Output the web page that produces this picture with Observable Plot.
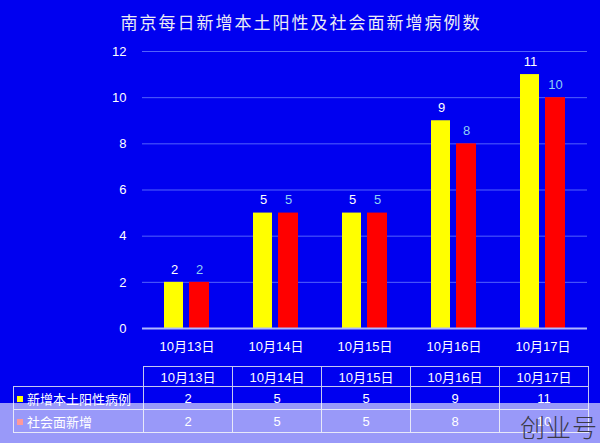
<!DOCTYPE html>
<html>
<head>
<meta charset="utf-8">
<script src="https://cdn.jsdelivr.net/npm/d3@7"></script>
<script src="https://cdn.jsdelivr.net/npm/@observablehq/plot@0.6"></script>
<style>
  html, body { margin: 0; padding: 0; }
  body { width: 600px; height: 443px; overflow: hidden; background: #0000f0; }
  #wrap { position: relative; width: 600px; height: 443px; background: #0000f0;
          font-family: "Liberation Sans", "Noto Sans CJK SC", sans-serif; color: #fff; }
  #title { height: 40px; line-height: 44px; text-align: center; font-family: "Noto Sans CJK SC", sans-serif;
           font-size: 17px; letter-spacing: 2px; color: #ececf4; padding-left: 2px; }
  #chart svg { display: block; }
  #tbl { position: absolute; left: 13px; top: 366px; border-collapse: collapse; font-size: 13px; color: #fff; }
  #tbl td { border: 1px solid #c4c8f0; text-align: center; padding: 0; }
  #tbl td.lab { text-align: left; width: 126px; padding-left: 3px; }
  #tbl td.col { width: 88px; }
  #tbl tr.h td { height: 17px; }
  #tbl tr.r1 td { height: 22px; }
  #tbl tr.r2 td { height: 22px; }
  #tbl td.blank { border: none; }
  .sw { display: inline-block; width: 6px; height: 6px; margin-right: 4px; vertical-align: 2px; }
  #wm { position: absolute; left: 0; top: 403px; width: 600px; height: 40px; background: rgba(255,255,255,0.6); }
  #wmt { position: absolute; right: 2px; top: 408px; font-family: "Noto Sans CJK SC", sans-serif; font-weight: 300;
         font-size: 25px; color: #3a3a48; letter-spacing: 1px; }
</style>
</head>
<body>
<div id="wrap">
  <div id="title"></div>
  <div id="chart"></div>
  <table id="tbl"></table>
  <div id="wm"></div>
  <div id="wmt">创业号</div>
</div>
<script>
const titleText = "南京每日新增本土阳性及社会面新增病例数";
const dates = ["10月13日", "10月14日", "10月15日", "10月16日", "10月17日"];
const seriesNames = ["新增本土阳性病例", "社会面新增"];
const localPositive = [2, 5, 5, 9, 11];
const socialNew = [2, 5, 5, 8, 10];
const yTicks = [0, 2, 4, 6, 8, 10, 12];
const seriesColors = ["#ffff00", "#ff0000"];
const labelColors = ["#ffffff", "#8fd0f4"];

document.getElementById("title").textContent = titleText;

const s1 = dates.map((d, i) => ({date: d, value: localPositive[i]}));
const s2 = dates.map((d, i) => ({date: d, value: socialNew[i]}));

const chart = Plot.plot({
  width: 600,
  height: 320,
  marginTop: 11,
  marginBottom: 32,
  marginLeft: 142,
  marginRight: 13,
  style: {background: "transparent", color: "#fff", fontFamily: "Liberation Sans, Noto Sans CJK SC, sans-serif", fontSize: "13px"},
  x: {domain: dates, padding: 0, label: null, tickSize: 0, tickPadding: 13},
  y: {domain: [0, 12], ticks: yTicks, label: null, tickSize: 0, tickPadding: 16},
  marks: [
    Plot.ruleY(yTicks.filter(t => t > 0), {stroke: "#5262fb", strokeWidth: 1}),
    Plot.barY(s1, {x: "date", y: "value", fill: seriesColors[0], insetLeft: 22, insetRight: 48}),
    Plot.barY(s2, {x: "date", y: "value", fill: seriesColors[1], insetLeft: 47, insetRight: 22}),
    Plot.ruleY([0], {stroke: "#b0b8ff", strokeWidth: 2}),
    Plot.text(s1, {x: "date", y: "value", text: d => String(d.value), dx: -12.5, dy: -13, fill: labelColors[0], fontSize: 13}),
    Plot.text(s2, {x: "date", y: "value", text: d => String(d.value), dx: 12.5, dy: -13, fill: labelColors[1], fontSize: 13})
  ]
});
document.getElementById("chart").appendChild(chart);

// data table under the chart
const tbl = document.getElementById("tbl");
let html = '<tr class="h"><td class="lab blank"></td>' + dates.map(d => `<td class="col">${d}</td>`).join("") + "</tr>";
const rows = [localPositive, socialNew];
rows.forEach((vals, r) => {
  html += `<tr class="r${r + 1}"><td class="lab"><span class="sw" style="background:${seriesColors[r]}"></span>${seriesNames[r]}</td>` +
    vals.map(v => `<td class="col">${v}</td>`).join("") + "</tr>";
});
tbl.innerHTML = html;
</script>
</body>
</html>
